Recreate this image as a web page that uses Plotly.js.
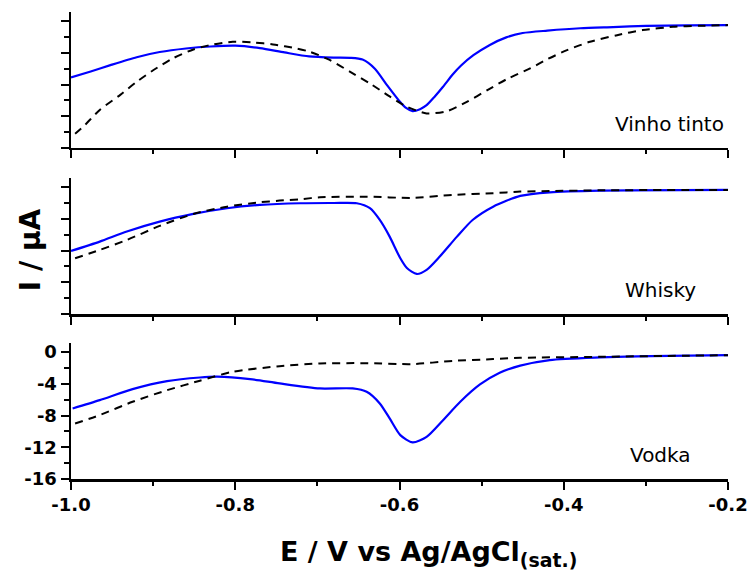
<!DOCTYPE html>
<html>
<head>
<meta charset="utf-8">
<script src="https://cdn.plot.ly/plotly-3.0.1.min.js"></script>
<style>html,body{margin:0;padding:0;background:#fff;}#chart{width:749px;height:571px;}</style>
</head>
<body>
<div id="chart"></div>
<script>
// ---- Data ----
const panelNames = ["Vinho tinto", "Whisky", "Vodka"];

const vinhoBlueE = [-1.0,-0.976,-0.952,-0.92,-0.892,-0.86,-0.83,-0.80,-0.77,-0.74,-0.71,-0.68,-0.66,-0.645,-0.63,-0.615,-0.60,-0.592,-0.584,-0.575,-0.567,-0.557,-0.547,-0.535,-0.525,-0.51,-0.49,-0.47,-0.45,-0.42,-0.38,-0.34,-0.30,-0.25,-0.2];
const vinhoBlueI = [-7.1,-6.35,-5.55,-4.55,-3.9,-3.45,-3.2,-3.1,-3.4,-3.95,-4.45,-4.6,-4.63,-4.85,-6.0,-8.1,-10.1,-10.95,-11.35,-11.1,-10.6,-9.5,-8.28,-6.7,-5.6,-4.3,-3.0,-2.05,-1.5,-1.2,-0.9,-0.75,-0.6,-0.53,-0.5];
const vinhoDashE = [-0.995,-0.983,-0.965,-0.94,-0.92,-0.90,-0.876,-0.851,-0.827,-0.803,-0.778,-0.754,-0.725,-0.709,-0.685,-0.66,-0.636,-0.612,-0.591,-0.567,-0.542,-0.518,-0.493,-0.469,-0.441,-0.42,-0.396,-0.368,-0.335,-0.304,-0.267,-0.234,-0.2];
const vinhoDashI = [-14.2,-13.1,-11.2,-9.3,-7.65,-6.2,-4.7,-3.57,-2.94,-2.6,-2.69,-2.94,-3.45,-3.87,-4.9,-6.4,-7.86,-9.5,-10.8,-11.64,-11.35,-10.18,-8.7,-7.3,-5.97,-4.8,-3.66,-2.6,-1.77,-1.13,-0.72,-0.59,-0.5];

const whiskyBlueE = [-1.0,-0.965,-0.932,-0.892,-0.851,-0.81,-0.77,-0.721,-0.68,-0.652,-0.636,-0.624,-0.612,-0.599,-0.591,-0.579,-0.567,-0.551,-0.53,-0.511,-0.486,-0.453,-0.417,-0.356,-0.2];
const whiskyBlueI = [-8.05,-6.87,-5.6,-4.35,-3.38,-2.66,-2.24,-2.03,-2.0,-2.03,-2.66,-4.14,-6.24,-8.97,-10.2,-10.95,-10.44,-8.76,-6.24,-4.14,-2.46,-1.11,-0.65,-0.44,-0.35];
const whiskyDashE = [-0.995,-0.965,-0.932,-0.892,-0.851,-0.81,-0.77,-0.746,-0.721,-0.697,-0.64,-0.584,-0.535,-0.486,-0.453,-0.417,-0.356,-0.2];
const whiskyDashI = [-8.97,-7.92,-6.66,-4.89,-3.38,-2.46,-1.91,-1.7,-1.53,-1.28,-1.2,-1.36,-0.98,-0.77,-0.56,-0.5,-0.4,-0.35];

const vodkaBlueE = [-0.998,-0.965,-0.925,-0.883,-0.843,-0.822,-0.782,-0.746,-0.697,-0.657,-0.64,-0.624,-0.612,-0.599,-0.584,-0.567,-0.547,-0.526,-0.502,-0.478,-0.453,-0.417,-0.356,-0.295,-0.2];
const vodkaBlueI = [-7.1,-6.05,-4.67,-3.66,-3.2,-3.1,-3.4,-3.95,-4.58,-4.58,-5.0,-6.47,-8.36,-10.47,-11.39,-10.68,-8.58,-6.26,-4.08,-2.6,-1.7,-1.0,-0.67,-0.5,-0.38];
const vodkaDashE = [-0.995,-0.965,-0.925,-0.883,-0.843,-0.803,-0.746,-0.697,-0.644,-0.584,-0.535,-0.486,-0.453,-0.356,-0.2];
const vodkaDashI = [-9.0,-7.94,-6.26,-4.8,-3.6,-2.48,-1.77,-1.43,-1.39,-1.51,-1.1,-0.88,-0.72,-0.59,-0.38];

const xTickVals = [-1.0,-0.8,-0.6,-0.4,-0.2];
const xTickText = ["-1.0","-0.8","-0.6","-0.4","-0.2"];
const yTickVals = [0,-4,-8,-12,-16];
const yTickText = ["0","-4","-8","-12","-16"];

// ---- Build ----
const blue = "#0000ff";
function blueTrace(x, y, xa, ya) {
  return {x: x, y: y, xaxis: xa, yaxis: ya, type: "scatter", mode: "lines",
    line: {color: blue, width: 2.2, shape: "spline", smoothing: 0.7}, hoverinfo: "skip"};
}
function dashTrace(x, y, xa, ya) {
  return {x: x, y: y, xaxis: xa, yaxis: ya, type: "scatter", mode: "lines",
    line: {color: "#000", width: 2, dash: "8px,6px", shape: "spline", smoothing: 0.7}, hoverinfo: "skip"};
}
const data = [
  blueTrace(vinhoBlueE, vinhoBlueI, "x3", "y3"), dashTrace(vinhoDashE, vinhoDashI, "x3", "y3"),
  blueTrace(whiskyBlueE, whiskyBlueI, "x2", "y2"), dashTrace(whiskyDashE, whiskyDashI, "x2", "y2"),
  blueTrace(vodkaBlueE, vodkaBlueI, "x", "y"), dashTrace(vodkaDashE, vodkaDashI, "x", "y")
];

const tickFont = {family: "DejaVu Sans", size: 18, color: "#000", weight: "bold"};
function xAxis(anchor, labels) {
  return {anchor: anchor, domain: [0, 1], range: [-1.0, -0.2], showgrid: false, zeroline: false,
    showline: true, linecolor: "#000", linewidth: 2.5, ticks: "outside", ticklen: 8, tickwidth: 2, tickcolor: "#000",
    tickmode: "array", tickvals: xTickVals, ticktext: xTickText, showticklabels: labels, tickfont: tickFont,
    minor: {ticks: "outside", ticklen: 4, tickwidth: 2, tickcolor: "#000", dtick: 0.1, tick0: -1.0, showgrid: false},
    fixedrange: true};
}
function yAxis(anchor, domain, labels) {
  return {anchor: anchor, domain: domain, range: [-16, 1.15], showgrid: false, zeroline: false,
    showline: true, linecolor: "#000", linewidth: 2.5, ticks: "outside", ticklen: 8, tickwidth: 2, tickcolor: "#000",
    tickmode: "array", tickvals: yTickVals, ticktext: yTickText, showticklabels: labels, tickfont: tickFont,
    minor: {ticks: "outside", ticklen: 5, tickwidth: 2, tickcolor: "#000", dtick: 2, tick0: 0, showgrid: false},
    fixedrange: true};
}

const labelFont = {family: "DejaVu Sans", size: 20, color: "#000"};
const layout = {
  width: 749, height: 571,
  margin: {l: 71, r: 21, t: 12, b: 92},
  paper_bgcolor: "#fff", plot_bgcolor: "#fff",
  showlegend: false,
  xaxis: xAxis("y", true),
  yaxis: yAxis("x", [0, 0.2912], true),
  xaxis2: xAxis("y2", false),
  yaxis2: yAxis("x2", [0.3533, 0.6445], false),
  xaxis3: xAxis("y3", false),
  yaxis3: yAxis("x3", [0.7088, 1.0], false),
  annotations: [
    {text: panelNames[0], xref: "x3", yref: "y3", x: -0.2024, y: -13, xanchor: "right", yanchor: "middle", showarrow: false, font: labelFont},
    {text: panelNames[1], xref: "x2", yref: "y2", x: -0.2365, y: -13, xanchor: "right", yanchor: "middle", showarrow: false, font: labelFont},
    {text: panelNames[2], xref: "x", yref: "y", x: -0.2426, y: -13, xanchor: "right", yanchor: "middle", showarrow: false, font: labelFont},
    {text: "I / µA", xref: "paper", yref: "paper", x: -0.0624, y: 0.49, xanchor: "center", yanchor: "middle",
      textangle: -90, showarrow: false, font: {family: "DejaVu Sans", size: 28, color: "#000", weight: "bold"}},
    {text: "E / V vs Ag/AgCl<sub>(sat.)</sub>", xref: "paper", yref: "paper", x: 0.544, y: -0.16, xanchor: "center", yanchor: "middle",
      showarrow: false, font: {family: "DejaVu Sans", size: 27, color: "#000", weight: "bold"}}
  ]
};

Plotly.newPlot("chart", data, layout, {staticPlot: true, displayModeBar: false});
</script>
</body>
</html>
